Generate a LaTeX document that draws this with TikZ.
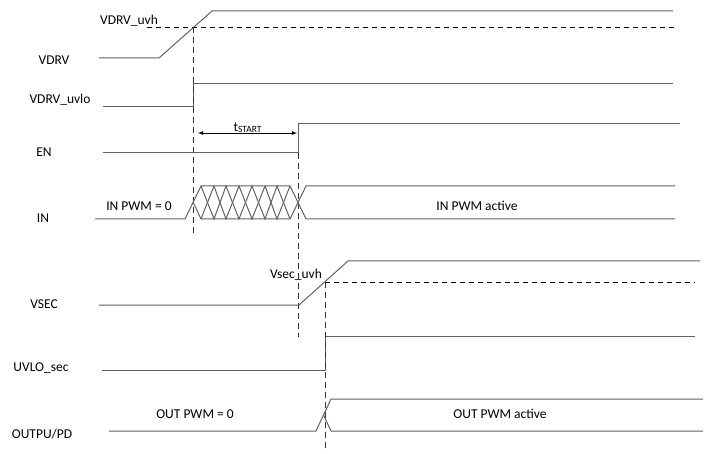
\documentclass[tikz,border=0pt]{standalone}
\usepackage{fontspec}
\setmainfont{Carlito}
\usepackage{tikz}
\usetikzlibrary{calc}

\tikzset{
  wave/.style={line width=1pt, black!62},
  thr/.style={line width=0.8pt, black, dash pattern=on 5pt off 4pt},
  guide/.style={line width=0.8pt, black!80, dash pattern=on 6pt off 4pt},
  sig/.style={font=\fontsize{13.5}{15}\selectfont, inner sep=0pt},
}

\begin{document}
\begin{tikzpicture}[x=1pt, y=-1pt]
        \useasboundingbox (0,0) rectangle (709,454);

        % Signal names
        \node[sig] (vdrv) at (54,60) {VDRV};
        \node[sig] (uvlo) at (60,100) {VDRV\_uvlo};
        \node[sig] (en) at (44,152) {EN};
        \node[sig] (in) at (43,218) {IN};
        \node[sig] (vsec) at (44,304) {VSEC};
        \node[sig] (uvlosec) at (41,368) {UVLO\_sec};
        \node[sig] (out) at (42,434) {OUTPU/PD};

        % VDRV
        \draw[wave] (99,58) -- (159,58) -- (212,11) -- (673,11);
        \draw[thr] (147,27) -- (675,27);
        \node[sig] (uvh) at (129,21) {VDRV\_uvh};

        % VDRV_uvlo
        \draw[wave] (103,107) -- (193,107) -- (193,84) -- (673,84);
        \draw[guide] (193,27) -- (193,233);

        % EN
        \draw[wave] (103,153) -- (298,153) -- (298,124) -- (680,124);
        \coordinate (ts1) at (198,133);
        \coordinate (ts2) at (297,133);
        \draw[<->, >=latex, line width=0.8pt] (ts1) -- (ts2);
        \node[sig, above=0.5pt] (tstart) at ($ (ts1)!0.5!(ts2) $) {t\raisebox{-0.5pt}{\fontsize{9.5}{10}\selectfont START}};
        \draw[guide] (298,153) -- (298,337);

        % IN
        \draw[wave] (95,219) -- (185,219) -- (201,186) -- (290,186) -- (306,219) -- (675,219);
        \draw[wave] (193,202) -- (201,219) -- (290,219) -- (306,186) -- (675,186);
        \draw[wave] (201,186) -- (214,219) -- (226,186) -- (239,219) -- (252,186) -- (265,219) -- (277,186) -- (290,219);
        \draw[wave] (201,219) -- (214,186) -- (226,219) -- (239,186) -- (252,219) -- (265,186) -- (277,219) -- (290,186);
        \node[sig] (inzero) at (139,206) {IN PWM = 0};
        \node[sig] (inact) at (477,206) {IN PWM active};

        % VSEC
        \draw[wave] (99,305) -- (299,305) -- (348,261) -- (700,261);
        \draw[thr] (325,282) -- (695,282);
        \node[sig] (secuvh) at (296,275) {Vsec\_uvh};

        % UVLO_sec
        \draw[wave] (102,370) -- (325,370) -- (325,336) -- (695,336);
        \draw[guide] (325,282) -- (325,452);

        % OUTPU/PD
        \draw[wave] (109,431) -- (316,431) -- (331,399) -- (703,399);
        \draw[wave] (323.5,415) -- (331,431) -- (703,431);
        \node[sig] (outzero) at (195,414) {OUT PWM = 0};
        \node[sig] (outact) at (500,414) {OUT PWM active};
\end{tikzpicture}
\end{document}
